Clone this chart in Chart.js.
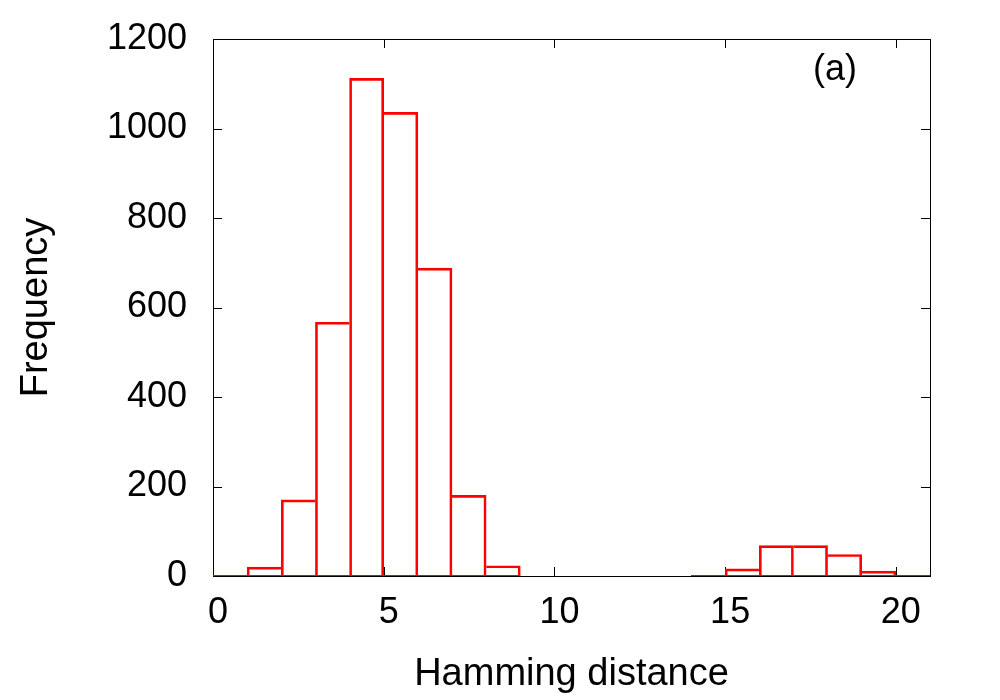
<!DOCTYPE html>
<html>
<head>
<meta charset="utf-8">
<script src="https://cdn.jsdelivr.net/npm/chart.js@4.4.1/dist/chart.umd.min.js"></script>
<style>
  html, body { margin: 0; padding: 0; background: #fff; }
  canvas { display: block; }
</style>
</head>
<body>
<canvas id="histo" width="1000" height="700"></canvas>
<script>
// histogram bins: left edge of each bin (width 1) and its count
const binStart = [0, 1, 2, 3, 4, 5, 6, 7, 8, 14, 15, 16, 17, 18, 19, 20];
const counts   = [0, 20, 170, 567, 1112, 1036, 688, 180, 23, 0, 16, 68, 68, 48, 11, 0];

const xTicks = [0, 5, 10, 15, 20];
const yTicks = [0, 200, 400, 600, 800, 1000, 1200];

const RED = '#ff0000';
const FONT = 'Liberation Sans, Arial, sans-serif';

// baseline along y=0 for every run of contiguous bins
const baseline = [];
binStart.forEach((b, i) => {
    if (i === 0 || binStart[i - 1] !== b - 1) {
        if (i > 0) baseline.push({ x: (binStart[i - 1] + 1 + b) / 2, y: null });
        baseline.push({ x: b, y: 0 });
    }
    if (i === binStart.length - 1 || binStart[i + 1] !== b + 1) baseline.push({ x: b + 1, y: 0 });
});

// neighbour count, 0 if the neighbouring bin is not listed
function neighbour(i, step) {
    const j = i + step;
    if (j < 0 || j >= binStart.length || binStart[j] !== binStart[i] + step) return 0;
    return counts[j];
}

// gnuplot style frame with inward ticks on all four sides
const framePlugin = {
    id: 'frame',
    beforeDatasetsDraw(chart) {
        const { ctx, chartArea: a, scales } = chart;
        const len = 9;
        ctx.save();
        ctx.strokeStyle = '#000';
        ctx.lineWidth = 1;
        ctx.strokeRect(a.left + 0.5, a.top + 0.5, a.right - a.left, a.bottom - a.top);
        ctx.beginPath();
        scales.x.ticks.forEach(t => {
            const px = Math.round(scales.x.getPixelForValue(t.value)) + 0.5;
            ctx.moveTo(px, a.bottom); ctx.lineTo(px, a.bottom - len);
            ctx.moveTo(px, a.top); ctx.lineTo(px, a.top + len);
        });
        scales.y.ticks.forEach(t => {
            const py = Math.round(scales.y.getPixelForValue(t.value)) + 0.5;
            ctx.moveTo(a.left, py); ctx.lineTo(a.left + len, py);
            ctx.moveTo(a.right, py); ctx.lineTo(a.right - len, py);
        });
        ctx.stroke();
        ctx.restore();
    },
    afterDraw(chart) {
        const { ctx } = chart;
        ctx.save();
        ctx.fillStyle = '#000';
        ctx.font = '36px ' + FONT;
        ctx.textAlign = 'center';
        ctx.textBaseline = 'middle';
        ctx.fillText('(a)', 835, 70);
        ctx.restore();
    }
};

new Chart(document.getElementById('histo'), {
    type: 'bar',
    data: {
        datasets: [
            {
                type: 'bar',
                data: binStart.map((b, i) => ({ x: b + 0.5, y: counts[i] })),
                backgroundColor: 'rgba(0,0,0,0)',
                borderColor: RED,
                borderSkipped: false,
                borderWidth: (c) => {
                    const i = c.dataIndex;
                    const v = counts[i];
                    return {
                        top: 2,
                        bottom: 0,
                        left: neighbour(i, -1) >= v ? 0 : 2,
                        right: neighbour(i, 1) > v ? 0 : 2
                    };
                },
                barPercentage: 1,
                categoryPercentage: 1
            },
            {
                type: 'line',
                data: baseline,
                borderColor: RED,
                borderWidth: 2,
                pointRadius: 0,
                spanGaps: false,
                fill: false
            }
        ]
    },
    options: {
        responsive: false,
        animation: false,
        layout: { padding: { top: 39, right: 70, left: 0, bottom: 0 } },
        plugins: { legend: { display: false }, tooltip: { enabled: false } },
        scales: {
            x: {
                type: 'linear',
                min: 0,
                max: 21,
                offset: false,
                grid: { display: false, drawTicks: false },
                border: { display: false },
                afterFit(s) { s.height = 124; s.paddingLeft = 0; s.paddingRight = 0; },
                afterBuildTicks(s) { s.ticks = xTicks.map(v => ({ value: v })); },
                ticks: {
                    color: '#000',
                    font: { family: FONT, size: 36 },
                    padding: 15,
                    labelOffset: 5,
                    maxRotation: 0,
                    callback: v => String(v)
                },
                title: {
                    display: true,
                    text: 'Hamming distance',
                    color: '#000',
                    font: { family: FONT, size: 38 },
                    padding: { top: 0, bottom: 3 }
                }
            },
            y: {
                min: 0,
                max: 1200,
                grid: { display: false, drawTicks: false },
                border: { display: false },
                afterFit(s) { s.width = 213; s.paddingTop = 0; s.paddingBottom = 0; },
                afterBuildTicks(s) { s.ticks = yTicks.map(v => ({ value: v })); },
                ticks: {
                    color: '#000',
                    font: { family: FONT, size: 36 },
                    padding: 26,
                    callback: v => String(v)
                },
                title: {
                    display: true,
                    text: 'Frequency',
                    color: '#000',
                    font: { family: FONT, size: 38 },
                    padding: { top: 14, bottom: 0 }
                }
            }
        }
    },
    plugins: [framePlugin]
});
</script>
</body>
</html>
